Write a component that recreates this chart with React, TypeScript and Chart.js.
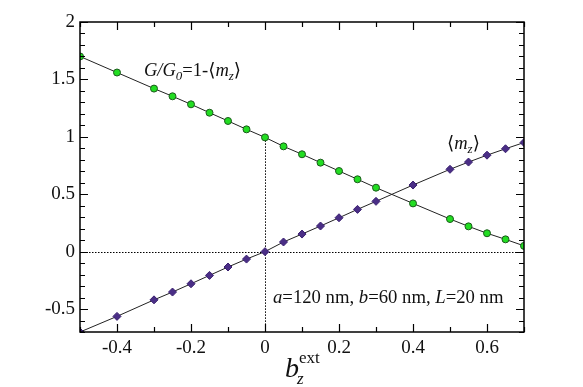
import React, { useEffect, useRef } from "react";
import { Chart, registerables } from "chart.js";

Chart.register(...registerables);

// ---- data ----
const B_EXT = [-0.5, -0.4, -0.3, -0.25, -0.2, -0.15, -0.1, -0.05, 0, 0.05, 0.1, 0.15, 0.2, 0.25, 0.3, 0.4, 0.5, 0.55, 0.6, 0.65, 0.7];
const G_OVER_G0 = [1.70, 1.56, 1.42, 1.353, 1.283, 1.21, 1.138, 1.065, 0.995, 0.917, 0.848, 0.775, 0.702, 0.63, 0.557, 0.42, 0.284, 0.22, 0.16, 0.107, 0.05];
const MZ = [-0.70, -0.564, -0.42, -0.352, -0.28, -0.207, -0.134, -0.065, 0.0, 0.084, 0.153, 0.223, 0.295, 0.368, 0.438, 0.58, 0.717, 0.78, 0.84, 0.896, 0.95];

const X_TICKS = [-0.4, -0.2, 0, 0.2, 0.4, 0.6];
const Y_TICKS = [-0.5, 0, 0.5, 1, 1.5, 2];
const X_MINOR_STEP = 0.1;
const Y_MINOR_STEP = 0.1;
const X_MIN = -0.5, X_MAX = 0.7, Y_MIN = -0.7, Y_MAX = 2;

const SERIF = "'Liberation Serif', 'Times New Roman', 'DejaVu Serif', serif";

type Run = { text: string; size: number; italic?: boolean; dy?: number };

function drawRuns(ctx: CanvasRenderingContext2D, x: number, y: number, runs: Run[]) {
  let cx = x;
  ctx.save();
  ctx.textBaseline = "alphabetic";
  ctx.textAlign = "left";
  ctx.fillStyle = "#111";
  for (const r of runs) {
    ctx.font = `${r.italic ? "italic " : ""}${r.size}px ${SERIF}`;
    ctx.fillText(r.text, cx, y + (r.dy || 0));
    cx += ctx.measureText(r.text).width;
  }
  ctx.restore();
}

const decorPlugin = {
  id: "decor",
  beforeDatasetsDraw(chart: any) {
    const { ctx, chartArea: a, scales } = chart;
    const xs = scales.x, ys = scales.y;
    ctx.save();
    ctx.strokeStyle = "#000";
    ctx.lineWidth = 1;
    ctx.setLineDash([1.5, 1.5]);
    const y0 = Math.round(ys.getPixelForValue(0)) + 0.5;
    ctx.beginPath();
    ctx.moveTo(a.left, y0);
    ctx.lineTo(a.right, y0);
    ctx.stroke();
    const x0 = Math.round(xs.getPixelForValue(0)) + 0.5;
    ctx.beginPath();
    ctx.moveTo(x0, ys.getPixelForValue(G_OVER_G0[B_EXT.indexOf(0)]));
    ctx.lineTo(x0, a.bottom);
    ctx.stroke();
    ctx.restore();
  },
  afterDraw(chart: any) {
    const { ctx, chartArea: a, scales } = chart;
    const xs = scales.x, ys = scales.y;
    ctx.save();
    ctx.strokeStyle = "#000";
    ctx.lineWidth = 1.5;
    ctx.strokeRect(a.left, a.top, a.right - a.left, a.bottom - a.top);
    ctx.lineWidth = 1.2;
    const MAJ = 8, MIN = 5;
    const nx = Math.round((X_MAX - X_MIN) / X_MINOR_STEP);
    for (let i = 0; i <= nx; i++) {
      const v = +(X_MIN + i * X_MINOR_STEP).toFixed(3);
      const major = X_TICKS.some((t) => Math.abs(t - v) < 1e-6);
      const px = Math.round(xs.getPixelForValue(v)) + 0.5;
      const len = major ? MAJ : MIN;
      ctx.beginPath();
      ctx.moveTo(px, a.bottom);
      ctx.lineTo(px, a.bottom - len);
      ctx.moveTo(px, a.top);
      ctx.lineTo(px, a.top + len);
      ctx.stroke();
    }
    const ny = Math.round((Y_MAX - Y_MIN) / Y_MINOR_STEP);
    for (let i = 0; i <= ny; i++) {
      const v = +(Y_MIN + i * Y_MINOR_STEP).toFixed(3);
      const major = Y_TICKS.some((t) => Math.abs(t - v) < 1e-6);
      const py = Math.round(ys.getPixelForValue(v)) + 0.5;
      const len = major ? MAJ : MIN;
      ctx.beginPath();
      ctx.moveTo(a.left, py);
      ctx.lineTo(a.left + len, py);
      ctx.moveTo(a.right, py);
      ctx.lineTo(a.right - len, py);
      ctx.stroke();
    }
    ctx.restore();

    drawRuns(ctx, 144, 76, [
      { text: "G/G", size: 18.5, italic: true },
      { text: "0", size: 13, italic: true, dy: 4 },
      { text: "=1-\u27E8", size: 18.5 },
      { text: "m", size: 18.5, italic: true },
      { text: "z", size: 13, italic: true, dy: 4 },
      { text: "\u27E9", size: 18.5 },
    ]);
    drawRuns(ctx, 447, 149, [
      { text: "\u27E8", size: 18.5 },
      { text: "m", size: 18.5, italic: true },
      { text: "z", size: 13, italic: true, dy: 4 },
      { text: "\u27E9", size: 18.5 },
    ]);
    drawRuns(ctx, 273, 303, [
      { text: "a", size: 18.7, italic: true },
      { text: "=120 nm, ", size: 18.7 },
      { text: "b", size: 18.7, italic: true },
      { text: "=60 nm, ", size: 18.7 },
      { text: "L", size: 18.7, italic: true },
      { text: "=20 nm", size: 18.7 },
    ]);
    drawRuns(ctx, 285, 377, [{ text: "b", size: 28, italic: true }]);
    drawRuns(ctx, 297, 384, [{ text: "z", size: 17, italic: true }]);
    drawRuns(ctx, 299, 363, [{ text: "ext", size: 17 }]);
  },
};

export default function App() {
  const ref = useRef<HTMLCanvasElement | null>(null);
  useEffect(() => {
    if (!ref.current) return;
    const fmt = (v: number) => String(+v.toFixed(2));
    const chart = new Chart(ref.current, {
      type: "scatter",
      data: {
        datasets: [
          {
            label: "G/G0",
            data: B_EXT.map((x, i) => ({ x, y: G_OVER_G0[i] })),
            showLine: true,
            borderColor: "#222",
            borderWidth: 1,
            pointStyle: "circle",
            pointRadius: 3.5,
            pointBackgroundColor: "#22dd22",
            pointBorderColor: "#1c5a1c",
            pointBorderWidth: 1,
          },
          {
            label: "mz",
            data: B_EXT.map((x, i) => ({ x, y: MZ[i] })),
            showLine: true,
            borderColor: "#222",
            borderWidth: 1,
            pointStyle: "rectRot",
            pointRadius: 4,
            pointBackgroundColor: "#4a2e86",
            pointBorderColor: "#3a2070",
            pointBorderWidth: 1,
          },
        ],
      },
      options: {
        animation: false,
        responsive: false,
        events: [],
        layout: { padding: { left: 0, right: 59, top: 22, bottom: 0 } },
        plugins: { legend: { display: false }, tooltip: { enabled: false } },
        scales: {
          x: {
            type: "linear",
            min: X_MIN,
            max: X_MAX,
            grid: { display: false, drawTicks: false },
            border: { display: false },
            afterBuildTicks: (s: any) => {
              s.ticks = X_TICKS.map((value) => ({ value }));
            },
            afterFit: (s: any) => {
              s.height = 55;
            },
            ticks: {
              autoSkip: false,
              maxRotation: 0,
              padding: 5,
              color: "#111",
              font: { family: SERIF, size: 19 },
              callback: (v: any) => fmt(Number(v)),
            },
          },
          y: {
            type: "linear",
            min: Y_MIN,
            max: Y_MAX,
            grid: { display: false, drawTicks: false },
            border: { display: false },
            afterBuildTicks: (s: any) => {
              s.ticks = Y_TICKS.map((value) => ({ value }));
            },
            afterFit: (s: any) => {
              s.width = 80;
            },
            ticks: {
              autoSkip: false,
              padding: 5,
              color: "#111",
              font: { family: SERIF, size: 19 },
              callback: (v: any) => fmt(Number(v)),
            },
          },
        },
      },
      plugins: [decorPlugin],
    } as any);
    return () => chart.destroy();
  }, []);
  return (
    <div style={{ position: "fixed", left: 0, top: 0, width: 583, height: 387, background: "#fff" }}>
      <canvas ref={ref} width={583} height={387} style={{ width: 583, height: 387 }} />
    </div>
  );
}
